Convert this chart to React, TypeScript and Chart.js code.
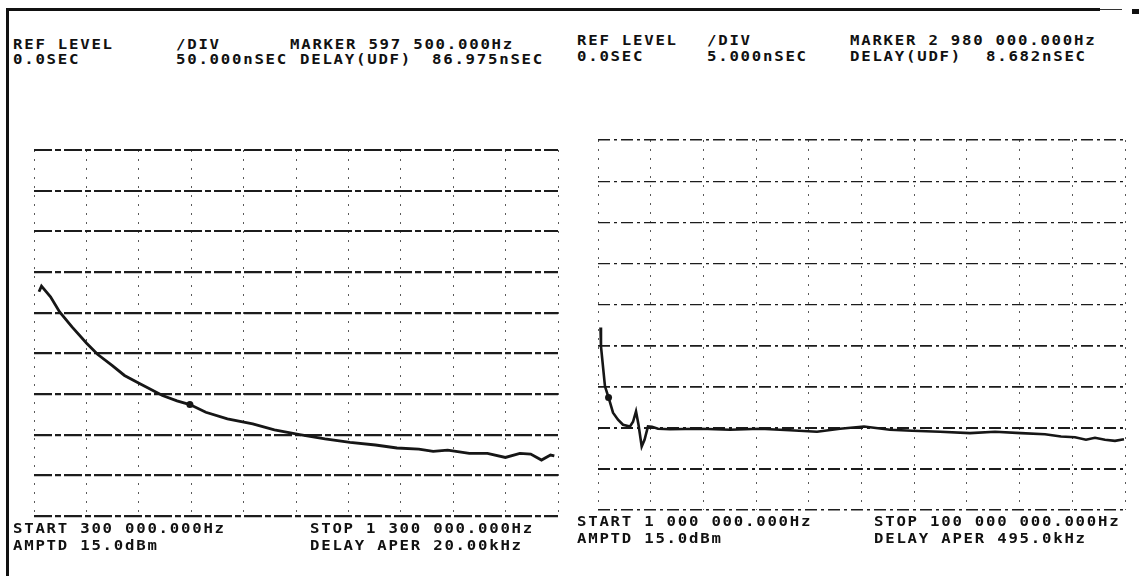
import React, { useEffect, useRef } from "react";
import { Chart, registerables } from "chart.js";

Chart.register(...registerables);

// ---------- data ----------
// Left panel: 300 kHz .. 1.3 MHz, group delay in nSEC (50 nSEC/div)
const leftFreqHz = [
  309500, 314300, 331500, 348900, 372500, 400400, 421200, 448900, 472700, 500400,
  545200, 572900, 597500, 627900, 669100, 717400, 758800, 806900, 855300, 903100,
  951700, 992700, 1034400, 1061800, 1089500, 1130700, 1165300, 1199600, 1227300,
  1247900, 1268500, 1285700, 1293000,
];
const leftDelayNs = [
  225.7, 232.7, 219.5, 201.0, 182.5, 162.4, 148.8, 135.2, 122.8, 113.3,
  98.2, 91.5, 86.975, 77.5, 69.4, 63.2, 55.8, 50.0, 44.7, 40.5,
  37.3, 33.6, 32.3, 29.4, 31.1, 26.9, 26.9, 22.0, 26.9,
  26.2, 18.8, 24.9, 23.8,
];
const leftMarkerHz = [597500];
const leftMarkerNs = [86.975];
const leftXRange = [300000, 1300000];
const leftYRange = [-50, 400];

// Right panel: 1 MHz .. 100 MHz, group delay in nSEC (5 nSEC/div)
const rightFreqHz = [
  1470000, 1560000, 2310000, 2980000, 3820000, 4760000, 5700000, 7010000, 7580000,
  8140000, 8610000, 9210000, 9740000, 10390000, 11140000, 12270000, 14530000,
  20160000, 25800000, 31430000, 37070000, 42140000, 46460000, 50970000, 55850000,
  59990000, 65250000, 70880000, 75580000, 80460000, 84970000, 87980000, 90610000,
  92670000, 94360000, 96240000, 98120000, 99810000,
];
const rightDelayNs = [
  17.2, 14.9, 10.04, 8.682, 6.83, 5.98, 5.37, 5.16, 5.73,
  6.99, 5.37, 2.72, 3.54, 5.16, 5.12, 4.88, 4.82,
  4.88, 4.76, 4.88, 4.69, 4.51, 4.88, 5.16, 4.76,
  4.63, 4.51, 4.35, 4.51, 4.35, 4.21, 3.94, 3.84,
  3.54, 3.78, 3.54, 3.41, 3.6,
];
const rightMarkerHz = [2980000];
const rightMarkerNs = [8.682];
const rightXRange = [1000000, 100000000];
const rightYRange = [-5, 40];

const xDivisions = 10;
const yDivisions = 9;

// ---------- annotation texts ----------
const leftHeader = [
  ["REF LEVEL", "/DIV", "MARKER 597 500.000Hz"],
  ["0.0SEC", "50.000nSEC", "DELAY(UDF)", "86.975nSEC"],
];
const rightHeader = [
  ["REF LEVEL", "/DIV", "MARKER 2 980 000.000Hz"],
  ["0.0SEC", "5.000nSEC", "DELAY(UDF)", "8.682nSEC"],
];
const leftFooter = [
  ["START 300 000.000Hz", "STOP 1 300 000.000Hz"],
  ["AMPTD 15.0dBm", "DELAY APER 20.00kHz"],
];
const rightFooter = [
  ["START 1 000 000.000Hz", "STOP 100 000 000.000Hz"],
  ["AMPTD 15.0dBm", "DELAY APER 495.0kHz"],
];

// ---------- layout (positions only) ----------
const FONT_SIZE = 14;
const CHAR_W = 0.602 * FONT_SIZE;
const GLYPH_STRETCH = 1.12;
const PITCH = 11.2; // plotter character pitch in px

type TextPos = { x: number; y: number };
const headerLayoutLeft: TextPos[][] = [
  [{ x: 13, y: 45 }, { x: 176, y: 45 }, { x: 290, y: 45 }],
  [{ x: 13, y: 60 }, { x: 176, y: 60 }, { x: 300, y: 60 }, { x: 432, y: 60 }],
];
const headerLayoutRight: TextPos[][] = [
  [{ x: 577, y: 41 }, { x: 707, y: 41 }, { x: 850, y: 41 }],
  [{ x: 577, y: 57 }, { x: 707, y: 57 }, { x: 850, y: 57 }, { x: 986, y: 57 }],
];
const footerLayoutLeft: TextPos[][] = [
  [{ x: 13, y: 529 }, { x: 310, y: 529 }],
  [{ x: 13, y: 546 }, { x: 310, y: 546 }],
];
const footerLayoutRight: TextPos[][] = [
  [{ x: 577, y: 522 }, { x: 874, y: 522 }],
  [{ x: 577, y: 539 }, { x: 874, y: 539 }],
];

type PanelSpec = {
  box: { left: number; top: number; width: number; height: number };
  pad: number;
  freq: number[];
  delay: number[];
  mHz: number[];
  mNs: number[];
  xr: number[];
  yr: number[];
  hWidths: number[];
  hDash: number[];
  vWidth: number;
  vDash: number[];
  traceWidth: number;
};

const PLOT_INK = "#161616";

function Panel({ spec }: { spec: PanelSpec }) {
  const ref = useRef<HTMLCanvasElement | null>(null);
  useEffect(() => {
    if (!ref.current) return;
    const trace = spec.freq.map((f, i) => ({ x: f, y: spec.delay[i] }));
    const marker = spec.mHz.map((f, i) => ({ x: f, y: spec.mNs[i] }));
    const chart = new Chart(ref.current, {
      type: "line",
      data: {
        datasets: [
          {
            data: trace,
            borderColor: PLOT_INK,
            borderWidth: spec.traceWidth,
            pointRadius: 0,
            tension: 0,
            fill: false,
          },
          {
            data: marker,
            showLine: false,
            pointRadius: 3.5,
            pointBackgroundColor: PLOT_INK,
            pointBorderColor: PLOT_INK,
            borderWidth: 0,
          },
        ],
      },
      options: {
        animation: false,
        responsive: false,
        devicePixelRatio: 1,
        layout: { padding: spec.pad },
        events: [],
        plugins: { legend: { display: false }, tooltip: { enabled: false }, title: { display: false } },
        scales: {
          x: {
            type: "linear",
            min: spec.xr[0],
            max: spec.xr[1],
            ticks: { display: false, count: xDivisions + 1 },
            grid: { color: "#5a5a5a", lineWidth: spec.vWidth, drawTicks: false, tickLength: 0 },
            border: { display: false, dash: spec.vDash },
          },
          y: {
            type: "linear",
            min: spec.yr[0],
            max: spec.yr[1],
            ticks: { display: false, count: yDivisions + 1 },
            grid: {
              color: "#1c1c1c",
              lineWidth: (c: any) => spec.hWidths[c.index] ?? 1.5,
              drawTicks: false,
              tickLength: 0,
            },
            border: { display: false, dash: spec.hDash },
          },
        },
      },
    });
    return () => chart.destroy();
  }, [spec]);
  return (
    <canvas
      ref={ref}
      width={spec.box.width}
      height={spec.box.height}
      style={{
        position: "absolute",
        left: spec.box.left,
        top: spec.box.top,
        width: spec.box.width,
        height: spec.box.height,
      }}
    />
  );
}

function TextRows({ rows, layout }: { rows: string[][]; layout: TextPos[][] }) {
  const out: React.ReactNode[] = [];
  const ls = PITCH / GLYPH_STRETCH - CHAR_W;
  rows.forEach((row, r) =>
    row.forEach((s, c) => {
      const p = layout[r][c];
      out.push(
        <span
          key={`${r}-${c}`}
          style={{
            position: "absolute",
            left: p.x,
            top: p.y - FONT_SIZE * 0.6,
            fontFamily: "'DejaVu Sans Mono', monospace",
            fontWeight: 700,
            fontSize: FONT_SIZE,
            lineHeight: `${FONT_SIZE}px`,
            letterSpacing: ls,
            whiteSpace: "pre",
            color: "#111",
            transform: `scaleX(${GLYPH_STRETCH})`,
            transformOrigin: "left center",
          }}
        >
          {s}
        </span>
      );
    })
  );
  return <>{out}</>;
}

const leftSpec: PanelSpec = {
  box: { left: 26, top: 142, width: 540, height: 382 },
  pad: 8,
  freq: leftFreqHz,
  delay: leftDelayNs,
  mHz: leftMarkerHz,
  mNs: leftMarkerNs,
  xr: leftXRange,
  yr: leftYRange,
  hWidths: [2.2, 2.2, 2.2, 2.2, 2.2, 2.2, 2.2, 2.0, 2.0, 2.0],
  hDash: [18, 3, 6, 3],
  vWidth: 1,
  vDash: [2, 7],
  traceWidth: 2.8,
};

const rightSpec: PanelSpec = {
  box: { left: 590, top: 132, width: 543, height: 386 },
  pad: 8,
  freq: rightFreqHz,
  delay: rightDelayNs,
  mHz: rightMarkerHz,
  mNs: rightMarkerNs,
  xr: rightXRange,
  yr: rightYRange,
  hWidths: [1.6, 2.0, 2.0, 1.8, 1.8, 1.3, 1.3, 1.2, 1.2, 1.4],
  hDash: [12, 4, 3, 4],
  vWidth: 1,
  vDash: [2, 7],
  traceWidth: 2.6,
};

export default function App() {
  return (
    <div
      style={{
        position: "absolute",
        left: 0,
        top: 0,
        width: 1139,
        height: 576,
        background: "#fff",
        overflow: "hidden",
      }}
    >
      {/* scanned sheet edges */}
      <div style={{ position: "absolute", left: 7, top: 8, width: 1093, height: 3, background: "#111" }} />
      <div style={{ position: "absolute", left: 1100, top: 9, width: 22, height: 1, background: "#333" }} />
      <div style={{ position: "absolute", left: 1132, top: 9, width: 7, height: 5, background: "#111" }} />
      <div style={{ position: "absolute", left: 6, top: 8, width: 3, height: 568, background: "#111" }} />

      <Panel spec={leftSpec} />
      <Panel spec={rightSpec} />

      <TextRows rows={leftHeader} layout={headerLayoutLeft} />
      <TextRows rows={rightHeader} layout={headerLayoutRight} />
      <TextRows rows={leftFooter} layout={footerLayoutLeft} />
      <TextRows rows={rightFooter} layout={footerLayoutRight} />
    </div>
  );
}
